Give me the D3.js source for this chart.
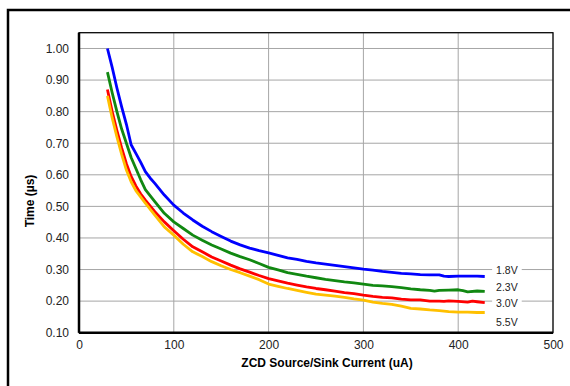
<!DOCTYPE html>
<html><head><meta charset="utf-8">
<script src="https://cdn.jsdelivr.net/npm/d3@7"></script>
<style>body{margin:0;background:#fff;} svg{display:block;}</style>
</head><body>
<svg id="c" width="570" height="386"></svg>
<script>
const xTicks = [0, 100, 200, 300, 400, 500];
const yTicks = [0.10, 0.20, 0.30, 0.40, 0.50, 0.60, 0.70, 0.80, 0.90, 1.00];
const seriesNames = ["1.8V", "2.3V", "3.0V", "5.5V"];
const seriesColors = ["#0000ff", "#118811", "#ff0000", "#ffc000"];

const blueX = [30,35,40,45,50,55,60,65,70,75,80,90,100,110,120,130,140,150,160,170,180,190,200,210,220,230,240,250,260,270,280,290,300,310,320,330,340,350,360,370,380,385,390,400,410,420,428];
const blueY = [1.00,0.94,0.875,0.815,0.76,0.695,0.668,0.64,0.61,0.59,0.573,0.536,0.504,0.479,0.457,0.437,0.42,0.405,0.39,0.378,0.368,0.36,0.353,0.345,0.337,0.332,0.326,0.321,0.317,0.313,0.309,0.305,0.301,0.298,0.294,0.291,0.288,0.286,0.284,0.283,0.283,0.279,0.278,0.279,0.279,0.279,0.278];

const greenX = [30,35,40,45,50,55,60,65,70,80,90,100,110,120,130,140,150,160,170,180,190,200,210,220,230,240,250,260,270,280,290,300,310,320,330,340,350,360,370,375,380,390,400,405,410,420,428];
const greenY = [0.925,0.86,0.80,0.745,0.70,0.655,0.62,0.585,0.553,0.515,0.478,0.451,0.43,0.409,0.393,0.378,0.365,0.352,0.341,0.331,0.319,0.307,0.299,0.29,0.285,0.279,0.274,0.269,0.265,0.261,0.258,0.254,0.25,0.248,0.246,0.243,0.239,0.236,0.234,0.232,0.234,0.235,0.236,0.233,0.229,0.232,0.231];

const redX = [30,35,40,45,50,55,60,65,70,80,90,100,110,120,130,140,150,160,170,180,190,200,210,220,230,240,250,260,270,280,290,300,310,320,330,340,350,360,370,380,385,390,400,410,415,420,428];
const redY = [0.87,0.80,0.74,0.685,0.635,0.595,0.565,0.54,0.52,0.483,0.451,0.423,0.396,0.372,0.356,0.34,0.327,0.314,0.302,0.292,0.281,0.271,0.264,0.257,0.251,0.245,0.24,0.236,0.232,0.227,0.224,0.219,0.215,0.212,0.21,0.206,0.204,0.204,0.2,0.2,0.199,0.201,0.199,0.197,0.2,0.198,0.195];

const yellowX = [30,35,40,45,50,55,60,65,70,80,90,100,110,120,130,140,150,160,170,180,190,200,210,220,230,240,250,260,270,280,290,300,310,320,330,340,350,360,370,380,390,400,410,420,428];
const yellowY = [0.85,0.78,0.72,0.665,0.615,0.578,0.55,0.53,0.51,0.472,0.435,0.409,0.38,0.356,0.341,0.325,0.312,0.3,0.29,0.279,0.268,0.254,0.247,0.24,0.234,0.228,0.222,0.219,0.216,0.212,0.207,0.203,0.197,0.193,0.19,0.184,0.177,0.175,0.172,0.17,0.167,0.165,0.165,0.164,0.164];

const labelY = [0.297, 0.245, 0.192, 0.132];

const series = [
  {x: blueX, y: blueY}, {x: greenX, y: greenY}, {x: redX, y: redY}, {x: yellowX, y: yellowY}
];

const FONT = "Liberation Sans, Arial, sans-serif";
const svg = d3.select("#c");
const L = 79, R = 553, T = 32.7, B = 332.7;
const x = d3.scaleLinear().domain([0, 500]).range([L, R]);
const y = d3.scaleLinear().domain([0.10, 1.05]).range([B, T]);

// outer frame
svg.append("rect").attr("x", 8).attr("y", 10).attr("width", 620).attr("height", 420)
  .attr("fill", "none").attr("stroke", "#000").attr("stroke-width", 2.5);

// grid
const g = svg.append("g");
g.selectAll("line.gy").data(yTicks.concat([1.05])).join("line")
  .attr("x1", L).attr("x2", R).attr("y1", d => y(d)).attr("y2", d => y(d))
  .attr("stroke", "#a6a6a6").attr("stroke-width", 1);
g.selectAll("line.gx").data(xTicks).join("line")
  .attr("y1", T).attr("y2", B).attr("x1", d => x(d)).attr("x2", d => x(d))
  .attr("stroke", "#a6a6a6").attr("stroke-width", 1);

// axes labels
const xAxis = d3.axisBottom(x).tickValues(xTicks).tickSize(0).tickPadding(8).tickFormat(d3.format("d"));
const ax = svg.append("g").attr("transform", `translate(0,${B})`).call(xAxis);
ax.select(".domain").remove();
ax.selectAll("text").attr("font-family", FONT).attr("font-size", 12).attr("fill", "#222");

const yAxis = d3.axisLeft(y).tickValues(yTicks).tickSize(0).tickPadding(10).tickFormat(d3.format(".2f"));
const ay = svg.append("g").attr("transform", `translate(${L},0)`).call(yAxis);
ay.select(".domain").remove();
ay.selectAll("text").attr("font-family", FONT).attr("font-size", 12).attr("fill", "#222");

// lines
const line = d3.line().x(d => x(d[0])).y(d => y(d[1]));
series.forEach((s, i) => {
  const pts = s.x.map((v, j) => [v, s.y[j]]);
  svg.append("path").datum(pts).attr("d", line)
    .attr("fill", "none").attr("stroke", seriesColors[i]).attr("stroke-width", 2.8)
    .attr("stroke-linejoin", "round").attr("stroke-linecap", "butt");
});

// series labels
seriesNames.forEach((n, i) => {
  const t = svg.append("text").attr("x", x(440)).attr("y", y(labelY[i])).attr("dy", "0.35em")
    .attr("font-family", FONT).attr("font-size", 10.5).attr("fill", "#222").text(n);
  const bb = t.node().getBBox();
  svg.insert("rect", () => t.node()).attr("x", bb.x - 4).attr("y", bb.y).attr("width", bb.width + 8).attr("height", bb.height).attr("fill", "#fff");
});

// plot border
svg.append("rect").attr("x", L).attr("y", T).attr("width", R - L).attr("height", B - T)
  .attr("fill", "none").attr("stroke", "#000").attr("stroke-width", 1.2);
svg.append("line").attr("x1", L).attr("x2", R).attr("y1", B).attr("y2", B).attr("stroke", "#000").attr("stroke-width", 2.5);
svg.append("line").attr("x1", L).attr("x2", L).attr("y1", T).attr("y2", B).attr("stroke", "#000").attr("stroke-width", 2.5);

// titles
svg.append("text").attr("x", 327).attr("y", 367).attr("text-anchor", "middle")
  .attr("font-family", FONT).attr("font-size", 12).attr("font-weight", "bold").attr("fill", "#000")
  .text("ZCD Source/Sink Current (uA)");
svg.append("text").attr("transform", "translate(34,201) rotate(-90)").attr("text-anchor", "middle")
  .attr("font-family", FONT).attr("font-size", 12).attr("font-weight", "bold").attr("fill", "#000")
  .text("Time (µs)");
</script>
</body></html>
